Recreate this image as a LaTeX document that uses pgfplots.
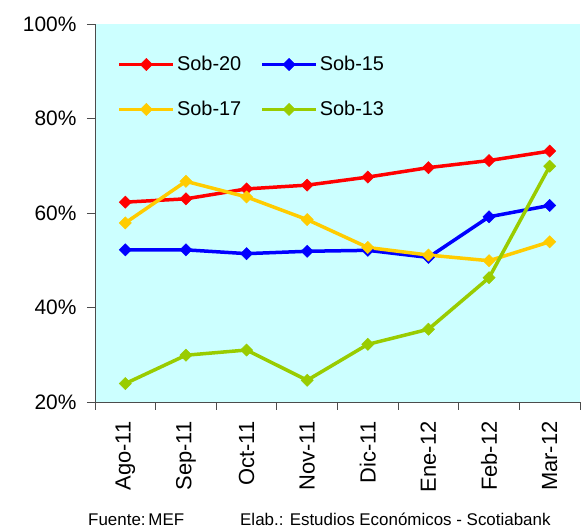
\documentclass[border=0pt]{standalone}
\usepackage{fontspec}
\setmainfont{Liberation Sans}
\usepackage{pgfplots}
\pgfplotsset{compat=1.18}
\definecolor{bgcyan}{RGB}{204,255,255}
\definecolor{cred}{RGB}{255,0,0}
\definecolor{cblue}{RGB}{0,0,255}
\definecolor{cyellow}{RGB}{255,204,0}
\definecolor{cgreen}{RGB}{153,204,0}
\begin{document}
\begin{tikzpicture}
\useasboundingbox (0,0) rectangle (582bp,529bp);
\begin{axis}[
  at={(95bp,127bp)}, anchor=south west,
  scale only axis, width=485bp, height=378bp,
  axis background/.style={fill=bgcyan},
  axis x line*=bottom, axis y line*=left,
  axis line style={black!70, line width=0.8bp},
  every tick/.style={black!70, line width=0.8bp},
  tick align=outside, major tick length=8bp,
  xmin=-0.5, xmax=7.5, ymin=20, ymax=100,
  xtick={-0.5,0.5,...,7.5},
  x tick label as interval=true,
  xticklabels={Ago-11,Sep-11,Oct-11,Nov-11,Dic-11,Ene-12,Feb-12,Mar-12},
  xticklabel style={yshift=-8bp, rotate=90, anchor=east, font=\fontsize{22}{26}\selectfont},
  ytick={20,40,60,80,100},
  yticklabel={\pgfmathprintnumber{\tick}\%},
  yticklabel style={xshift=-7bp, font=\fontsize{21}{25}\selectfont},
  /pgf/number format/assume math mode=true,
  legend columns=2,
  legend style={draw=none, fill=none, at={(0.04,0.925)}, anchor=north west,
    font=\fontsize{20}{24}\selectfont, row sep=25bp,
    /tikz/every even column/.append style={column sep=17bp}},
  legend cell align=left,
  legend image code/.code={\draw[mark repeat=2,mark phase=2,#1] plot coordinates {(0bp,0bp)(27bp,0bp)(54bp,0bp)};},
  every axis plot/.append style={line width=3.5bp, mark=square*, mark size=4.3bp},
]
\addplot[cred, mark options={fill=cred, rotate=45, solid, line width=0.5bp}] coordinates {(0,62.3)(1,63.0)(2,65.1)(3,65.9)(4,67.6)(5,69.6)(6,71.1)(7,73.1)};
\addlegendentry{Sob-20}
\addplot[cblue, mark options={fill=cblue, rotate=45, solid, line width=0.5bp}] coordinates {(0,52.2)(1,52.2)(2,51.4)(3,51.9)(4,52.1)(5,50.6)(6,59.2)(7,61.6)};
\addlegendentry{Sob-15}
\addplot[cyellow, mark options={fill=cyellow, rotate=45, solid, line width=0.5bp}] coordinates {(0,57.9)(1,66.7)(2,63.4)(3,58.6)(4,52.7)(5,51.1)(6,49.9)(7,53.9)};
\addlegendentry{Sob-17}
\addplot[cgreen, mark options={fill=cgreen, rotate=45, solid, line width=0.5bp}] coordinates {(0,23.9)(1,29.9)(2,31.0)(3,24.6)(4,32.2)(5,35.4)(6,46.3)(7,69.9)};
\addlegendentry{Sob-13}
\end{axis}
\node[anchor=base west, inner sep=0, font=\fontsize{17}{20}\selectfont] at (88bp,4bp) {Fuente:\,MEF};
\node[anchor=base west, inner sep=0, font=\fontsize{17}{20}\selectfont] at (240bp,4bp) {Elab.: Estudios Económicos - Scotiabank};
\end{tikzpicture}
\end{document}
